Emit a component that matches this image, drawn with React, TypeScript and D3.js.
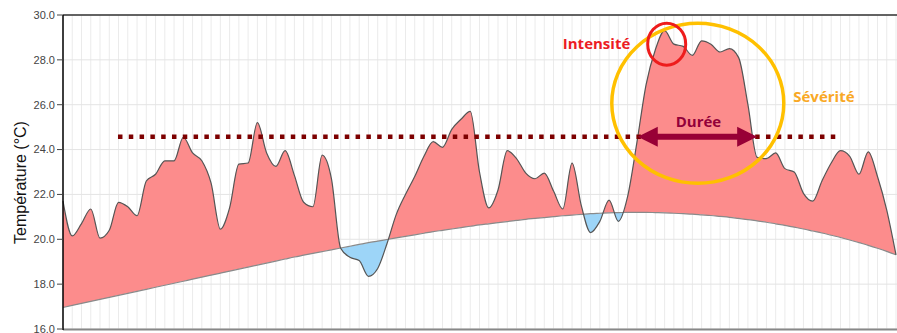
import React from "react";
import * as d3 from "d3";

// Observed daily temperature (°C), one value per day
const observed: number[] = [
  21.7, 20.15, 20.7, 21.35, 20.05, 20.4, 21.65, 21.45, 21.05, 22.6,
  22.9, 23.5, 23.5, 24.55, 23.85, 23.5, 22.5, 20.45, 21.4, 23.35,
  23.4, 25.2, 23.85, 23.25, 23.95, 22.85, 21.65, 21.45, 23.75, 22.7,
  19.6, 19.2, 19.05, 18.35, 18.7, 19.8, 21.1, 22.0, 22.8, 23.7,
  24.35, 24.1, 24.9, 25.35, 25.7, 23.0, 21.4, 22.2, 23.95, 23.6,
  22.95, 22.7, 22.95, 22.15, 21.35, 23.4, 21.5, 20.3, 20.8, 21.75,
  20.8, 21.9, 24.3, 26.9, 28.45, 29.3, 28.7, 28.6, 28.2, 28.85,
  28.7, 28.35, 28.5, 28.1, 26.0, 23.65, 23.6, 23.85, 23.15, 23.0,
  22.05, 21.7, 22.6, 23.4, 23.95, 23.7, 22.9, 23.9, 22.8, 21.3,
  19.3,
];

// Climatological reference (°C), one value per day
const baseline: number[] = [
  16.96, 17.05, 17.14, 17.23, 17.32, 17.41, 17.5, 17.59, 17.68, 17.77,
  17.86, 17.95, 18.04, 18.13, 18.22, 18.31, 18.4, 18.49, 18.58, 18.67,
  18.76, 18.85, 18.94, 19.03, 19.12, 19.21, 19.29, 19.37, 19.45, 19.53,
  19.61, 19.69, 19.77, 19.85, 19.92, 19.99, 20.06, 20.13, 20.2, 20.27,
  20.34, 20.4, 20.46, 20.52, 20.58, 20.64, 20.69, 20.74, 20.79, 20.84,
  20.89, 20.93, 20.97, 21.01, 21.05, 21.08, 21.11, 21.14, 21.16, 21.18,
  21.19, 21.2, 21.2, 21.2, 21.19, 21.18, 21.16, 21.14, 21.12, 21.09,
  21.06, 21.02, 20.98, 20.93, 20.88, 20.82, 20.76, 20.69, 20.62, 20.54,
  20.46, 20.37, 20.28, 20.18, 20.08, 19.97, 19.85, 19.73, 19.6, 19.46,
  19.31,
];

const yTicks: number[] = [16, 18, 20, 22, 24, 26, 28, 30];
const threshold = 24.57;
const thresholdSpan: number[] = [5.94, 83.7];
const durationSpan: number[] = [62.1, 75.0];
const yAxisTitle = "Température (°C)";
const labels = { intensity: "Intensité", severity: "Sévérité", duration: "Durée" };

const W = 897;
const H = 333;

export default function App() {
  const n = observed.length;
  const x = d3.scaleLinear().domain([0, n - 1]).range([63, 896]);
  const y = d3.scaleLinear().domain([16, 30]).range([329, 15]);
  const idx = d3.range(n);

  const curve = d3.curveMonotoneX;
  const between = d3
    .area<number>()
    .x((i) => x(i))
    .y0((i) => y(baseline[i]))
    .y1((i) => y(observed[i]))
    .curve(curve);
  const aboveClip = d3
    .area<number>()
    .x((i) => x(i))
    .y0(0)
    .y1((i) => y(baseline[i]))
    .curve(curve);
  const belowClip = d3
    .area<number>()
    .x((i) => x(i))
    .y0(H)
    .y1((i) => y(baseline[i]))
    .curve(curve);
  const obsLine = d3
    .line<number>()
    .x((i) => x(i))
    .y((i) => y(observed[i]))
    .curve(curve);
  const baseLine = d3
    .line<number>()
    .x((i) => x(i))
    .y((i) => y(baseline[i]))
    .curve(curve);

  // arrow
  const ax0 = x(durationSpan[0]);
  const ax1 = x(durationSpan[1]);
  const ay = y(threshold);
  const hl = 20;
  const hw = 10;
  const sw = 3;
  const arrowPath = `M${ax0},${ay} L${ax0 + hl},${ay - hw} L${ax0 + hl},${ay - sw} L${ax1 - hl},${ay - sw} L${ax1 - hl},${ay - hw} L${ax1},${ay} L${ax1 - hl},${ay + hw} L${ax1 - hl},${ay + sw} L${ax0 + hl},${ay + sw} L${ax0 + hl},${ay + hw} Z`;

  const fmt = d3.format(".1f");
  const annFont = "'Open Sans', Lato, sans-serif";

  return (
    <svg
      width={W}
      height={H}
      style={{ position: "absolute", left: 0, top: 0, background: "#fff" }}
    >
      <defs>
        <clipPath id="above">
          <path d={aboveClip(idx) || ""} />
        </clipPath>
        <clipPath id="below">
          <path d={belowClip(idx) || ""} />
        </clipPath>
      </defs>
      {/* vertical grid */}
      {idx.map((i) => (
        <line key={"vg" + i} x1={x(i)} x2={x(i)} y1={15} y2={329} stroke="#ebebeb" strokeWidth={1} />
      ))}
      {/* horizontal grid */}
      {yTicks.map((t) => (
        <line key={"hg" + t} x1={63} x2={W} y1={y(t)} y2={y(t)} stroke="#e4e4e4" strokeWidth={1} />
      ))}
      {/* fills */}
      <path d={between(idx) || ""} fill="#fc8c8c" clipPath="url(#above)" />
      <path d={between(idx) || ""} fill="#9dd5f8" clipPath="url(#below)" />
      <path d={baseLine(idx) || ""} fill="none" stroke="#8a8a8a" strokeWidth={1.2} />
      <path d={obsLine(idx) || ""} fill="none" stroke="#555" strokeWidth={1.2} />
      {/* threshold */}
      <line
        x1={x(thresholdSpan[0])}
        x2={x(thresholdSpan[1])}
        y1={y(threshold)}
        y2={y(threshold)}
        stroke="#7d0000"
        strokeWidth={4.5}
        strokeDasharray="4.5 6.3"
      />
      {/* severity ellipse */}
      <ellipse cx={697.8} cy={103.3} rx={86} ry={80} fill="none" stroke="#ffc000" strokeWidth={3.5} />
      {/* intensity circle */}
      <ellipse cx={666.7} cy={44.2} rx={19} ry={21} fill="none" stroke="#ee1c1c" strokeWidth={3} />
      {/* duration arrow */}
      <path d={arrowPath} fill="#980036" />
      <text x={x(68.66)} y={y(25.02)} textAnchor="middle" fill="#93003a" fontFamily={annFont} fontWeight={700} fontSize={15}>
        {labels.duration}
      </text>
      <text x={x(54)} y={y(28.5)} fill="#ec1c24" fontFamily={annFont} fontWeight={700} fontSize={15}>
        {labels.intensity}
      </text>
      <text x={x(78.9)} y={y(26.14)} fill="#f9a825" fontFamily={annFont} fontWeight={700} fontSize={15}>
        {labels.severity}
      </text>
      {/* axes frame */}
      <line x1={63} x2={W} y1={15} y2={15} stroke="#333" strokeWidth={1.3} />
      <line x1={63} x2={W} y1={329.5} y2={329.5} stroke="#888" strokeWidth={2} />
      <line x1={63} x2={63} y1={15} y2={330} stroke="#000" strokeWidth={1.5} />
      {yTicks.map((t) => (
        <g key={"yt" + t}>
          <line x1={57} x2={63} y1={y(t)} y2={y(t)} stroke="#444" strokeWidth={1} />
          <text
            x={55}
            y={y(t)}
            dy="0.35em"
            textAnchor="end"
            fill="#444"
            fontFamily="'Liberation Sans', Arial, sans-serif"
            fontSize={11}
          >
            {fmt(t)}
          </text>
        </g>
      ))}
      <text
        transform={`translate(26,182.5) rotate(-90)`}
        textAnchor="middle"
        fill="#111"
        fontFamily="'Liberation Sans', Arial, sans-serif"
        fontSize={16}
      >
        {yAxisTitle}
      </text>
    </svg>
  );
}
